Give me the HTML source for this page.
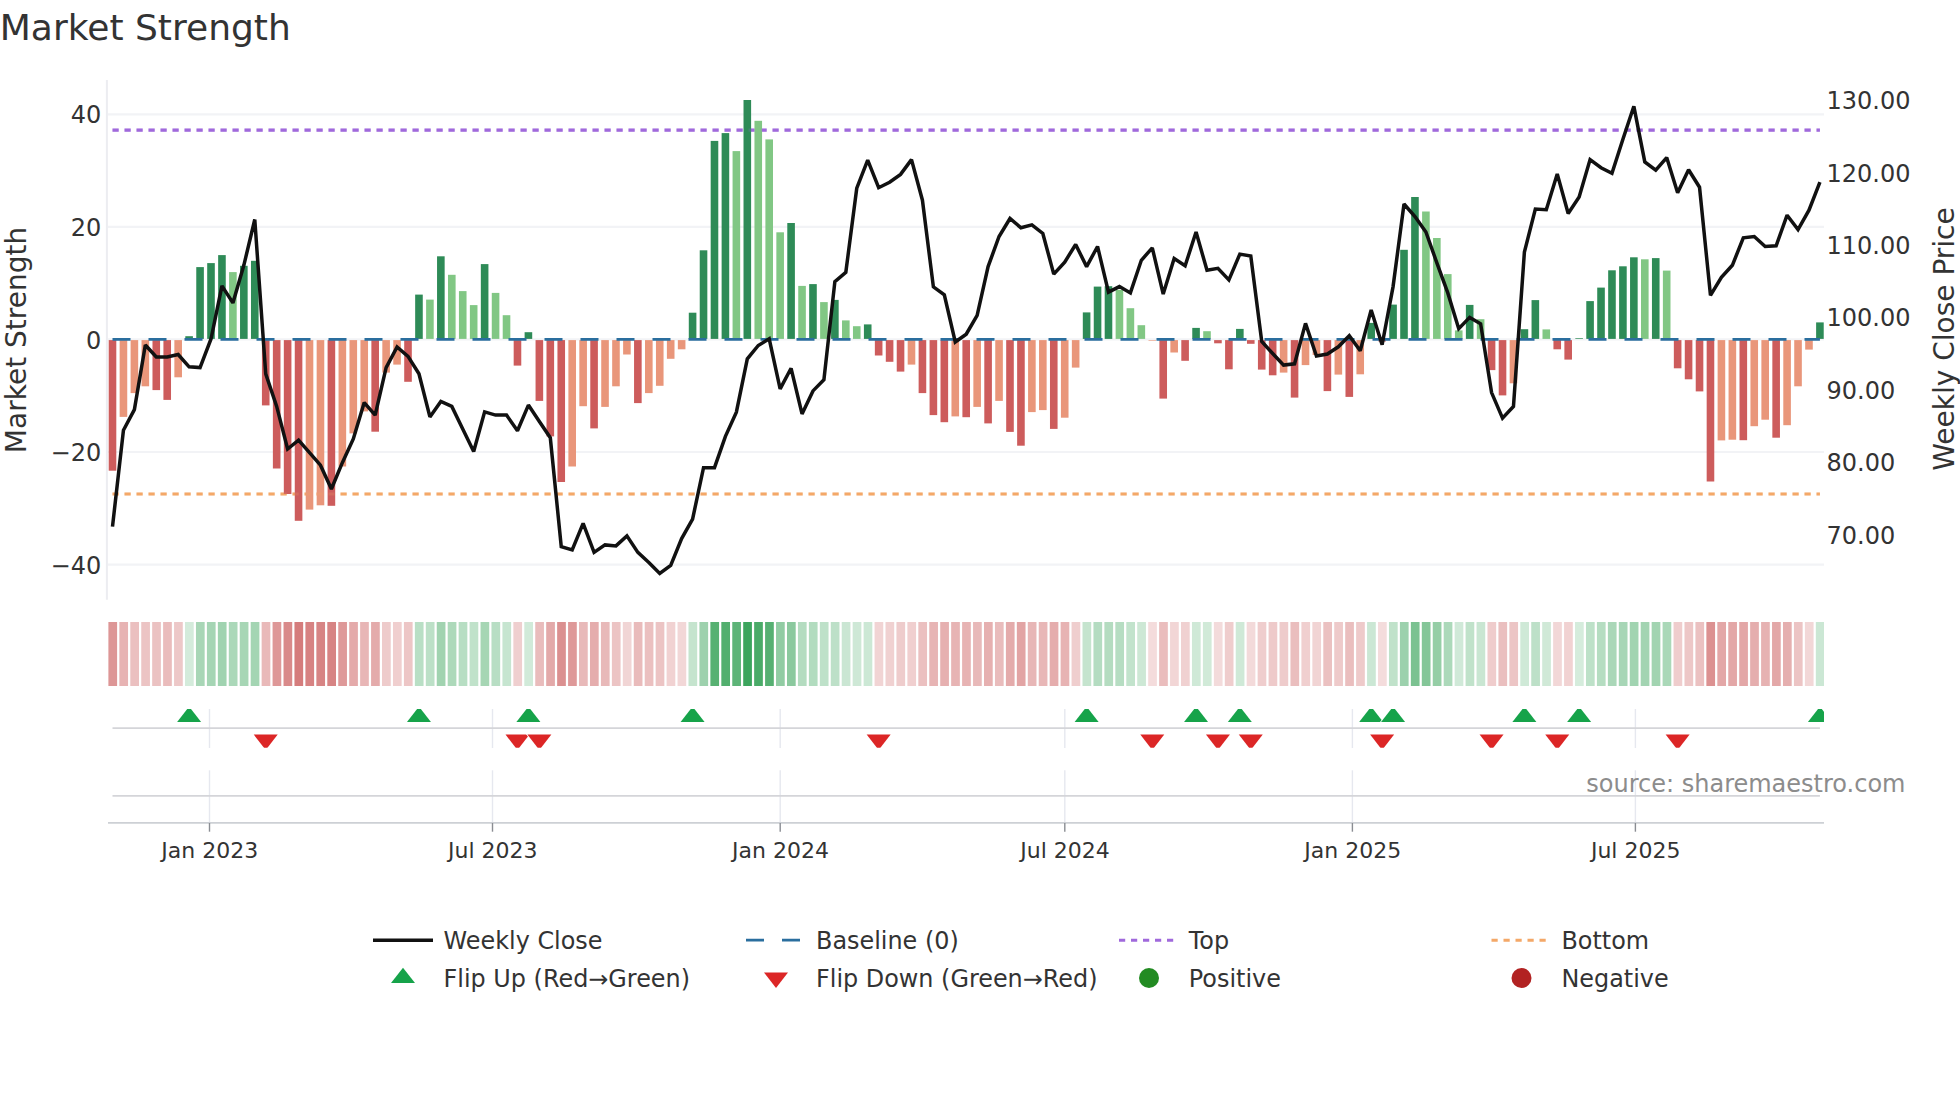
<!DOCTYPE html>
<html lang="en"><head><meta charset="utf-8"><title>Market Strength</title>
<style>html,body{margin:0;padding:0;background:#fff;}body{width:1960px;height:1102px;overflow:hidden;}svg{display:block;}text{font-family:"DejaVu Sans", "Liberation Sans", sans-serif;}</style>
</head><body>
<svg width="1960" height="1102" viewBox="0 0 1960 1102">
<rect width="1960" height="1102" fill="#ffffff"/>
<text x="-0.2" y="40.1" font-size="36" fill="#333333">Market Strength</text>
<g stroke="#f2f3f6" stroke-width="2.2" fill="none">
<line x1="108" y1="114.3" x2="1824" y2="114.3"/>
<line x1="108" y1="226.9" x2="1824" y2="226.9"/>
<line x1="108" y1="339.4" x2="1824" y2="339.4"/>
<line x1="108" y1="452" x2="1824" y2="452"/>
<line x1="108" y1="564.6" x2="1824" y2="564.6"/>
</g>
<line x1="106.9" y1="80" x2="106.9" y2="599.8" stroke="#ecedf1" stroke-width="2"/>
<line x1="112.5" y1="130.1" x2="1819.92" y2="130.1" stroke="#a069dc" stroke-width="3.1" stroke-dasharray="6.2 5.8"/>
<line x1="112.5" y1="494" x2="1819.92" y2="494" stroke="#f4a868" stroke-width="3.1" stroke-dasharray="6.2 5.8"/>
<g shape-rendering="auto">
<rect x="108.7" y="340.1" width="7.6" height="130.6" fill="#cd5c5c"/>
<rect x="119.64" y="340.1" width="7.6" height="76.8" fill="#e9967a"/>
<rect x="130.59" y="340.1" width="7.6" height="53" fill="#e9967a"/>
<rect x="141.53" y="340.1" width="7.6" height="46.2" fill="#e9967a"/>
<rect x="152.48" y="340.1" width="7.6" height="50" fill="#cd5c5c"/>
<rect x="163.42" y="340.1" width="7.6" height="59.8" fill="#cd5c5c"/>
<rect x="174.37" y="340.1" width="7.6" height="37.2" fill="#e9967a"/>
<rect x="185.31" y="336.2" width="7.6" height="2.7" fill="#2e8b57"/>
<rect x="196.26" y="267.1" width="7.6" height="71.8" fill="#2e8b57"/>
<rect x="207.2" y="263.1" width="7.6" height="75.8" fill="#2e8b57"/>
<rect x="218.15" y="255.1" width="7.6" height="83.8" fill="#2e8b57"/>
<rect x="229.09" y="272.1" width="7.6" height="66.8" fill="#81c784"/>
<rect x="240.04" y="265.8" width="7.6" height="73.1" fill="#2e8b57"/>
<rect x="250.98" y="260.8" width="7.6" height="78.1" fill="#2e8b57"/>
<rect x="261.93" y="340.1" width="7.6" height="65.3" fill="#cd5c5c"/>
<rect x="272.88" y="340.1" width="7.6" height="128.4" fill="#cd5c5c"/>
<rect x="283.82" y="340.1" width="7.6" height="153.9" fill="#cd5c5c"/>
<rect x="294.76" y="340.1" width="7.6" height="180.7" fill="#cd5c5c"/>
<rect x="305.71" y="340.1" width="7.6" height="169.5" fill="#e9967a"/>
<rect x="316.66" y="340.1" width="7.6" height="165.2" fill="#e9967a"/>
<rect x="327.6" y="340.1" width="7.6" height="165.7" fill="#cd5c5c"/>
<rect x="338.55" y="340.1" width="7.6" height="126.4" fill="#e9967a"/>
<rect x="349.49" y="340.1" width="7.6" height="93.3" fill="#e9967a"/>
<rect x="360.44" y="340.1" width="7.6" height="71.3" fill="#e9967a"/>
<rect x="371.38" y="340.1" width="7.6" height="91.6" fill="#cd5c5c"/>
<rect x="382.32" y="340.1" width="7.6" height="32.5" fill="#e9967a"/>
<rect x="393.27" y="340.1" width="7.6" height="24.5" fill="#e9967a"/>
<rect x="404.21" y="340.1" width="7.6" height="41.7" fill="#cd5c5c"/>
<rect x="415.16" y="294.6" width="7.6" height="44.3" fill="#2e8b57"/>
<rect x="426.11" y="299.6" width="7.6" height="39.3" fill="#81c784"/>
<rect x="437.05" y="256.3" width="7.6" height="82.6" fill="#2e8b57"/>
<rect x="448" y="274.8" width="7.6" height="64.1" fill="#81c784"/>
<rect x="458.94" y="291.1" width="7.6" height="47.8" fill="#81c784"/>
<rect x="469.88" y="305.1" width="7.6" height="33.8" fill="#81c784"/>
<rect x="480.83" y="264.1" width="7.6" height="74.8" fill="#2e8b57"/>
<rect x="491.77" y="292.9" width="7.6" height="46" fill="#81c784"/>
<rect x="502.72" y="315.2" width="7.6" height="23.7" fill="#81c784"/>
<rect x="513.67" y="340.1" width="7.6" height="25.5" fill="#cd5c5c"/>
<rect x="524.61" y="332.2" width="7.6" height="6.7" fill="#2e8b57"/>
<rect x="535.56" y="340.1" width="7.6" height="60.8" fill="#cd5c5c"/>
<rect x="546.5" y="340.1" width="7.6" height="96.3" fill="#cd5c5c"/>
<rect x="557.45" y="340.1" width="7.6" height="141.9" fill="#cd5c5c"/>
<rect x="568.39" y="340.1" width="7.6" height="126.4" fill="#e9967a"/>
<rect x="579.34" y="340.1" width="7.6" height="66.1" fill="#e9967a"/>
<rect x="590.28" y="340.1" width="7.6" height="88.3" fill="#cd5c5c"/>
<rect x="601.23" y="340.1" width="7.6" height="66.8" fill="#e9967a"/>
<rect x="612.17" y="340.1" width="7.6" height="46.2" fill="#e9967a"/>
<rect x="623.12" y="340.1" width="7.6" height="14.4" fill="#e9967a"/>
<rect x="634.06" y="340.1" width="7.6" height="63" fill="#cd5c5c"/>
<rect x="645.01" y="340.1" width="7.6" height="53" fill="#e9967a"/>
<rect x="655.95" y="340.1" width="7.6" height="45.7" fill="#e9967a"/>
<rect x="666.9" y="340.1" width="7.6" height="18.7" fill="#e9967a"/>
<rect x="677.84" y="340.1" width="7.6" height="9.2" fill="#e9967a"/>
<rect x="688.79" y="312.7" width="7.6" height="26.2" fill="#2e8b57"/>
<rect x="699.73" y="250.3" width="7.6" height="88.6" fill="#2e8b57"/>
<rect x="710.68" y="140.9" width="7.6" height="198" fill="#2e8b57"/>
<rect x="721.62" y="133.1" width="7.6" height="205.8" fill="#2e8b57"/>
<rect x="732.57" y="151.1" width="7.6" height="187.8" fill="#81c784"/>
<rect x="743.51" y="100" width="7.6" height="238.9" fill="#2e8b57"/>
<rect x="754.46" y="120.8" width="7.6" height="218.1" fill="#81c784"/>
<rect x="765.4" y="139.4" width="7.6" height="199.5" fill="#81c784"/>
<rect x="776.35" y="232.3" width="7.6" height="106.6" fill="#81c784"/>
<rect x="787.29" y="223" width="7.6" height="115.9" fill="#2e8b57"/>
<rect x="798.24" y="285.9" width="7.6" height="53" fill="#81c784"/>
<rect x="809.18" y="284.1" width="7.6" height="54.8" fill="#2e8b57"/>
<rect x="820.13" y="302.1" width="7.6" height="36.8" fill="#81c784"/>
<rect x="831.07" y="299.9" width="7.6" height="39" fill="#2e8b57"/>
<rect x="842.02" y="320.4" width="7.6" height="18.5" fill="#81c784"/>
<rect x="852.96" y="326.2" width="7.6" height="12.7" fill="#81c784"/>
<rect x="863.91" y="324.4" width="7.6" height="14.5" fill="#2e8b57"/>
<rect x="874.85" y="340.1" width="7.6" height="15.4" fill="#cd5c5c"/>
<rect x="885.8" y="340.1" width="7.6" height="21.7" fill="#cd5c5c"/>
<rect x="896.74" y="340.1" width="7.6" height="31.5" fill="#cd5c5c"/>
<rect x="907.69" y="340.1" width="7.6" height="24.5" fill="#e9967a"/>
<rect x="918.63" y="340.1" width="7.6" height="53" fill="#cd5c5c"/>
<rect x="929.58" y="340.1" width="7.6" height="75" fill="#cd5c5c"/>
<rect x="940.52" y="340.1" width="7.6" height="82.1" fill="#cd5c5c"/>
<rect x="951.47" y="340.1" width="7.6" height="76.3" fill="#e9967a"/>
<rect x="962.41" y="340.1" width="7.6" height="77.1" fill="#cd5c5c"/>
<rect x="973.36" y="340.1" width="7.6" height="66.8" fill="#e9967a"/>
<rect x="984.3" y="340.1" width="7.6" height="83.3" fill="#cd5c5c"/>
<rect x="995.25" y="340.1" width="7.6" height="60.8" fill="#e9967a"/>
<rect x="1006.19" y="340.1" width="7.6" height="91.8" fill="#cd5c5c"/>
<rect x="1017.14" y="340.1" width="7.6" height="105.6" fill="#cd5c5c"/>
<rect x="1028.08" y="340.1" width="7.6" height="72" fill="#e9967a"/>
<rect x="1039.03" y="340.1" width="7.6" height="70" fill="#e9967a"/>
<rect x="1049.97" y="340.1" width="7.6" height="88.8" fill="#cd5c5c"/>
<rect x="1060.92" y="340.1" width="7.6" height="77.6" fill="#e9967a"/>
<rect x="1071.86" y="340.1" width="7.6" height="27.5" fill="#e9967a"/>
<rect x="1082.81" y="312.4" width="7.6" height="26.5" fill="#2e8b57"/>
<rect x="1093.75" y="286.6" width="7.6" height="52.3" fill="#2e8b57"/>
<rect x="1104.69" y="286.2" width="7.6" height="52.7" fill="#2e8b57"/>
<rect x="1115.64" y="289.9" width="7.6" height="49" fill="#81c784"/>
<rect x="1126.59" y="308.2" width="7.6" height="30.7" fill="#81c784"/>
<rect x="1137.53" y="325.2" width="7.6" height="13.7" fill="#81c784"/>
<rect x="1148.48" y="340.1" width="7.6" height="0.6" fill="#e9967a"/>
<rect x="1159.42" y="340.1" width="7.6" height="58.5" fill="#cd5c5c"/>
<rect x="1170.37" y="340.1" width="7.6" height="12.4" fill="#e9967a"/>
<rect x="1181.31" y="340.1" width="7.6" height="20.7" fill="#cd5c5c"/>
<rect x="1192.26" y="327.9" width="7.6" height="11" fill="#2e8b57"/>
<rect x="1203.2" y="331.2" width="7.6" height="7.7" fill="#81c784"/>
<rect x="1214.14" y="340.1" width="7.6" height="3.2" fill="#cd5c5c"/>
<rect x="1225.09" y="340.1" width="7.6" height="29.2" fill="#cd5c5c"/>
<rect x="1236.04" y="328.9" width="7.6" height="10" fill="#2e8b57"/>
<rect x="1246.98" y="340.1" width="7.6" height="3.7" fill="#cd5c5c"/>
<rect x="1257.93" y="340.1" width="7.6" height="29.5" fill="#cd5c5c"/>
<rect x="1268.87" y="340.1" width="7.6" height="35.2" fill="#cd5c5c"/>
<rect x="1279.82" y="340.1" width="7.6" height="32.5" fill="#e9967a"/>
<rect x="1290.76" y="340.1" width="7.6" height="57.5" fill="#cd5c5c"/>
<rect x="1301.71" y="340.1" width="7.6" height="25" fill="#e9967a"/>
<rect x="1312.65" y="340.1" width="7.6" height="14.9" fill="#e9967a"/>
<rect x="1323.6" y="340.1" width="7.6" height="51" fill="#cd5c5c"/>
<rect x="1334.54" y="340.1" width="7.6" height="34.5" fill="#e9967a"/>
<rect x="1345.49" y="340.1" width="7.6" height="56.8" fill="#cd5c5c"/>
<rect x="1356.43" y="340.1" width="7.6" height="34.2" fill="#e9967a"/>
<rect x="1367.38" y="322.9" width="7.6" height="16" fill="#2e8b57"/>
<rect x="1378.32" y="340.1" width="7.6" height="1.4" fill="#cd5c5c"/>
<rect x="1389.27" y="304.6" width="7.6" height="34.3" fill="#2e8b57"/>
<rect x="1400.21" y="249.8" width="7.6" height="89.1" fill="#2e8b57"/>
<rect x="1411.15" y="197" width="7.6" height="141.9" fill="#2e8b57"/>
<rect x="1422.1" y="211.5" width="7.6" height="127.4" fill="#81c784"/>
<rect x="1433.05" y="238" width="7.6" height="100.9" fill="#81c784"/>
<rect x="1443.99" y="274.1" width="7.6" height="64.8" fill="#81c784"/>
<rect x="1454.94" y="330.4" width="7.6" height="8.5" fill="#81c784"/>
<rect x="1465.88" y="304.9" width="7.6" height="34" fill="#2e8b57"/>
<rect x="1476.83" y="319.2" width="7.6" height="19.7" fill="#81c784"/>
<rect x="1487.77" y="340.1" width="7.6" height="30" fill="#cd5c5c"/>
<rect x="1498.72" y="340.1" width="7.6" height="55.3" fill="#cd5c5c"/>
<rect x="1509.66" y="340.1" width="7.6" height="43.2" fill="#e9967a"/>
<rect x="1520.61" y="329.2" width="7.6" height="9.7" fill="#2e8b57"/>
<rect x="1531.55" y="300.1" width="7.6" height="38.8" fill="#2e8b57"/>
<rect x="1542.5" y="329.4" width="7.6" height="9.5" fill="#81c784"/>
<rect x="1553.44" y="340.1" width="7.6" height="9.2" fill="#cd5c5c"/>
<rect x="1564.38" y="340.1" width="7.6" height="19.5" fill="#cd5c5c"/>
<rect x="1575.33" y="338.2" width="7.6" height="0.7" fill="#2e8b57"/>
<rect x="1586.28" y="301.1" width="7.6" height="37.8" fill="#2e8b57"/>
<rect x="1597.22" y="287.6" width="7.6" height="51.3" fill="#2e8b57"/>
<rect x="1608.17" y="270.3" width="7.6" height="68.6" fill="#2e8b57"/>
<rect x="1619.11" y="266.3" width="7.6" height="72.6" fill="#2e8b57"/>
<rect x="1630.06" y="257.3" width="7.6" height="81.6" fill="#2e8b57"/>
<rect x="1641" y="259.3" width="7.6" height="79.6" fill="#81c784"/>
<rect x="1651.95" y="258.1" width="7.6" height="80.8" fill="#2e8b57"/>
<rect x="1662.89" y="270.6" width="7.6" height="68.3" fill="#81c784"/>
<rect x="1673.84" y="340.1" width="7.6" height="28.2" fill="#cd5c5c"/>
<rect x="1684.78" y="340.1" width="7.6" height="39.2" fill="#cd5c5c"/>
<rect x="1695.73" y="340.1" width="7.6" height="51.3" fill="#cd5c5c"/>
<rect x="1706.67" y="340.1" width="7.6" height="141.4" fill="#cd5c5c"/>
<rect x="1717.62" y="340.1" width="7.6" height="100.3" fill="#e9967a"/>
<rect x="1728.56" y="340.1" width="7.6" height="99.6" fill="#e9967a"/>
<rect x="1739.51" y="340.1" width="7.6" height="100.1" fill="#cd5c5c"/>
<rect x="1750.45" y="340.1" width="7.6" height="86.1" fill="#e9967a"/>
<rect x="1761.39" y="340.1" width="7.6" height="79.6" fill="#e9967a"/>
<rect x="1772.34" y="340.1" width="7.6" height="97.6" fill="#cd5c5c"/>
<rect x="1783.29" y="340.1" width="7.6" height="85.1" fill="#e9967a"/>
<rect x="1794.23" y="340.1" width="7.6" height="46.2" fill="#e9967a"/>
<rect x="1805.18" y="340.1" width="7.6" height="9.5" fill="#e9967a"/>
<rect x="1816.12" y="322.4" width="7.6" height="16.5" fill="#2e8b57"/>
</g>
<line x1="112.5" y1="339.4" x2="1819.92" y2="339.4" stroke="#2a6e9e" stroke-width="2.8" stroke-dasharray="18 18"/>
<line x1="112.5" y1="130.1" x2="1819.92" y2="130.1" stroke="#a069dc" stroke-width="3.1" stroke-dasharray="6.2 5.8" opacity="0.2"/>
<line x1="112.5" y1="494" x2="1819.92" y2="494" stroke="#f4a868" stroke-width="3.1" stroke-dasharray="6.2 5.8" opacity="0.2"/>
<polyline points="112.5,526.6 123.44,430.2 134.39,409.6 145.34,345 156.28,357 167.22,357 178.17,354.5 189.12,366.8 200.06,367.6 211,339 221.95,285.9 232.9,302.9 243.84,265.3 254.78,219.5 265.73,373.8 276.68,406.4 287.62,449 298.56,440.2 309.51,452.7 320.46,465.2 331.4,489 342.35,462.7 353.29,438.9 364.24,402.6 375.18,415.1 386.12,367.6 397.07,347 408.01,356.3 418.96,373.8 429.91,416.9 440.85,401.4 451.8,406.4 462.74,428.9 473.69,451.5 484.63,411.9 495.57,415.1 506.52,415.1 517.47,430.7 528.41,405.1 539.36,421.4 550.3,437.7 561.25,546.6 572.19,549.9 583.13,523.3 594.08,552.4 605.03,544.9 615.97,545.9 626.91,535.9 637.86,552.4 648.81,562.4 659.75,573.4 670.7,565.4 681.64,538.6 692.59,519.1 703.53,467.7 714.48,467.7 725.42,436.4 736.37,412.1 747.31,358.8 758.25,345.5 769.2,338.8 780.14,388.9 791.09,368.3 802.03,413.9 812.98,390.9 823.93,379.6 834.87,281.6 845.82,272.3 856.76,188.2 867.71,160.1 878.65,187.7 889.6,182.2 900.54,174.4 911.49,159.6 922.43,200.2 933.38,286.9 944.32,294.9 955.26,342 966.21,334.2 977.15,315.4 988.1,266.6 999.05,236.5 1009.99,218.5 1020.94,227.8 1031.88,224.8 1042.83,233.5 1053.77,274.1 1064.72,262.1 1075.66,244.5 1086.61,266.6 1097.55,246.5 1108.49,292.1 1119.44,286.6 1130.38,292.9 1141.33,260.3 1152.28,247.8 1163.22,294.1 1174.16,258.6 1185.11,265.8 1196.06,232 1207,270.3 1217.94,268.3 1228.89,279.9 1239.84,254.1 1250.78,256.1 1261.73,341.5 1272.67,353.5 1283.62,365.1 1294.56,363.8 1305.51,323.4 1316.45,356 1327.39,354 1338.34,346.8 1349.29,335.7 1360.23,350.7 1371.17,309.9 1382.12,344.8 1393.07,286.6 1404.01,204 1414.95,216.5 1425.9,232 1436.85,262.8 1447.79,292.9 1458.74,328.7 1469.68,317.4 1480.62,323.8 1491.57,392.6 1502.52,418.2 1513.46,406.4 1524.4,252 1535.35,209 1546.3,209.7 1557.24,173.9 1568.18,213.5 1579.13,197 1590.08,159.6 1601.02,167.7 1611.97,173.2 1622.91,139.2 1633.86,106.3 1644.8,161.9 1655.75,170.2 1666.69,157.6 1677.63,192.7 1688.58,169.7 1699.53,187.2 1710.47,295.4 1721.41,277.3 1732.36,265.3 1743.31,237.8 1754.25,236.5 1765.19,246.5 1776.14,245.8 1787.09,215.2 1798.03,229.5 1808.98,210.2 1819.92,182.2" fill="none" stroke="#111111" stroke-width="3.5" stroke-linejoin="miter" stroke-miterlimit="2" stroke-linecap="butt"/>
<g font-size="24" fill="#333333" text-anchor="end">
<text x="101.2" y="123.4">40</text>
<text x="101.2" y="236">20</text>
<text x="101.2" y="348.5">0</text>
<text x="101.2" y="461.1">−20</text>
<text x="101.2" y="573.7">−40</text>
</g>
<g font-size="24" fill="#333333" text-anchor="start">
<text x="1826.5" y="109.25">130.00</text>
<text x="1826.5" y="181.65">120.00</text>
<text x="1826.5" y="254.05">110.00</text>
<text x="1826.5" y="326.45">100.00</text>
<text x="1826.5" y="398.85">90.00</text>
<text x="1826.5" y="471.25">80.00</text>
<text x="1826.5" y="543.65">70.00</text>
</g>
<text transform="translate(26.4 340) rotate(-90)" text-anchor="middle" font-size="28" fill="#333333">Market Strength</text>
<text transform="translate(1954.3 339) rotate(-90)" text-anchor="middle" font-size="28" fill="#333333">Weekly Close Price</text>
<g>
<rect x="108.4" y="622" width="8.7" height="64" fill="#dd9696"/>
<rect x="119.34" y="622" width="8.7" height="64" fill="#e7b3b3"/>
<rect x="130.29" y="622" width="8.7" height="64" fill="#ebc0c0"/>
<rect x="141.24" y="622" width="8.7" height="64" fill="#ecc4c4"/>
<rect x="152.18" y="622" width="8.7" height="64" fill="#ebc2c2"/>
<rect x="163.12" y="622" width="8.7" height="64" fill="#eabcbc"/>
<rect x="174.07" y="622" width="8.7" height="64" fill="#edc8c8"/>
<rect x="185.02" y="622" width="8.7" height="64" fill="#d4ebdb"/>
<rect x="195.96" y="622" width="8.7" height="64" fill="#a8d6b6"/>
<rect x="206.91" y="622" width="8.7" height="64" fill="#a5d5b4"/>
<rect x="217.85" y="622" width="8.7" height="64" fill="#a0d3b0"/>
<rect x="228.8" y="622" width="8.7" height="64" fill="#abd8b9"/>
<rect x="239.74" y="622" width="8.7" height="64" fill="#a7d6b5"/>
<rect x="250.69" y="622" width="8.7" height="64" fill="#a4d5b3"/>
<rect x="261.63" y="622" width="8.7" height="64" fill="#e9b9b9"/>
<rect x="272.57" y="622" width="8.7" height="64" fill="#de9898"/>
<rect x="283.52" y="622" width="8.7" height="64" fill="#d98a8a"/>
<rect x="294.46" y="622" width="8.7" height="64" fill="#d57c7c"/>
<rect x="305.41" y="622" width="8.7" height="64" fill="#d78282"/>
<rect x="316.36" y="622" width="8.7" height="64" fill="#d78484"/>
<rect x="327.3" y="622" width="8.7" height="64" fill="#d78484"/>
<rect x="338.25" y="622" width="8.7" height="64" fill="#de9999"/>
<rect x="349.19" y="622" width="8.7" height="64" fill="#e4aaaa"/>
<rect x="360.13" y="622" width="8.7" height="64" fill="#e8b6b6"/>
<rect x="371.08" y="622" width="8.7" height="64" fill="#e4abab"/>
<rect x="382.02" y="622" width="8.7" height="64" fill="#eecbcb"/>
<rect x="392.97" y="622" width="8.7" height="64" fill="#f0cfcf"/>
<rect x="403.91" y="622" width="8.7" height="64" fill="#edc6c6"/>
<rect x="414.86" y="622" width="8.7" height="64" fill="#b9dfc5"/>
<rect x="425.81" y="622" width="8.7" height="64" fill="#bce0c7"/>
<rect x="436.75" y="622" width="8.7" height="64" fill="#a1d3b0"/>
<rect x="447.69" y="622" width="8.7" height="64" fill="#add9ba"/>
<rect x="458.64" y="622" width="8.7" height="64" fill="#b7dec3"/>
<rect x="469.58" y="622" width="8.7" height="64" fill="#c0e2ca"/>
<rect x="480.53" y="622" width="8.7" height="64" fill="#a6d6b4"/>
<rect x="491.47" y="622" width="8.7" height="64" fill="#b8dec4"/>
<rect x="502.42" y="622" width="8.7" height="64" fill="#c6e5d0"/>
<rect x="513.37" y="622" width="8.7" height="64" fill="#efcfcf"/>
<rect x="524.31" y="622" width="8.7" height="64" fill="#d1ead9"/>
<rect x="535.25" y="622" width="8.7" height="64" fill="#e9bcbc"/>
<rect x="546.2" y="622" width="8.7" height="64" fill="#e3a9a9"/>
<rect x="557.14" y="622" width="8.7" height="64" fill="#db9090"/>
<rect x="568.09" y="622" width="8.7" height="64" fill="#de9999"/>
<rect x="579.03" y="622" width="8.7" height="64" fill="#e8b9b9"/>
<rect x="589.98" y="622" width="8.7" height="64" fill="#e5adad"/>
<rect x="600.93" y="622" width="8.7" height="64" fill="#e8b9b9"/>
<rect x="611.87" y="622" width="8.7" height="64" fill="#ecc4c4"/>
<rect x="622.81" y="622" width="8.7" height="64" fill="#f1d5d5"/>
<rect x="633.76" y="622" width="8.7" height="64" fill="#e9bbbb"/>
<rect x="644.71" y="622" width="8.7" height="64" fill="#ebc0c0"/>
<rect x="655.65" y="622" width="8.7" height="64" fill="#ecc4c4"/>
<rect x="666.6" y="622" width="8.7" height="64" fill="#f1d2d2"/>
<rect x="677.54" y="622" width="8.7" height="64" fill="#f2d7d7"/>
<rect x="688.49" y="622" width="8.7" height="64" fill="#c5e4ce"/>
<rect x="699.43" y="622" width="8.7" height="64" fill="#9dd1ad"/>
<rect x="710.38" y="622" width="8.7" height="64" fill="#57b172"/>
<rect x="721.32" y="622" width="8.7" height="64" fill="#52af6e"/>
<rect x="732.26" y="622" width="8.7" height="64" fill="#5db478"/>
<rect x="743.21" y="622" width="8.7" height="64" fill="#3ca55d"/>
<rect x="754.15" y="622" width="8.7" height="64" fill="#4aab68"/>
<rect x="765.1" y="622" width="8.7" height="64" fill="#56b072"/>
<rect x="776.04" y="622" width="8.7" height="64" fill="#91cca3"/>
<rect x="786.99" y="622" width="8.7" height="64" fill="#8bc99e"/>
<rect x="797.93" y="622" width="8.7" height="64" fill="#b4dcc0"/>
<rect x="808.88" y="622" width="8.7" height="64" fill="#b2dcbf"/>
<rect x="819.83" y="622" width="8.7" height="64" fill="#bee1c9"/>
<rect x="830.77" y="622" width="8.7" height="64" fill="#bde0c8"/>
<rect x="841.72" y="622" width="8.7" height="64" fill="#cae6d3"/>
<rect x="852.66" y="622" width="8.7" height="64" fill="#cee8d6"/>
<rect x="863.61" y="622" width="8.7" height="64" fill="#cce8d5"/>
<rect x="874.55" y="622" width="8.7" height="64" fill="#f1d4d4"/>
<rect x="885.5" y="622" width="8.7" height="64" fill="#f0d1d1"/>
<rect x="896.44" y="622" width="8.7" height="64" fill="#eecccc"/>
<rect x="907.38" y="622" width="8.7" height="64" fill="#f0cfcf"/>
<rect x="918.33" y="622" width="8.7" height="64" fill="#ebc0c0"/>
<rect x="929.27" y="622" width="8.7" height="64" fill="#e7b4b4"/>
<rect x="940.22" y="622" width="8.7" height="64" fill="#e6b0b0"/>
<rect x="951.16" y="622" width="8.7" height="64" fill="#e7b4b4"/>
<rect x="962.11" y="622" width="8.7" height="64" fill="#e7b3b3"/>
<rect x="973.05" y="622" width="8.7" height="64" fill="#e8b9b9"/>
<rect x="984" y="622" width="8.7" height="64" fill="#e6b0b0"/>
<rect x="994.95" y="622" width="8.7" height="64" fill="#e9bcbc"/>
<rect x="1005.89" y="622" width="8.7" height="64" fill="#e4abab"/>
<rect x="1016.84" y="622" width="8.7" height="64" fill="#e2a4a4"/>
<rect x="1027.78" y="622" width="8.7" height="64" fill="#e7b6b6"/>
<rect x="1038.73" y="622" width="8.7" height="64" fill="#e8b7b7"/>
<rect x="1049.67" y="622" width="8.7" height="64" fill="#e5adad"/>
<rect x="1060.62" y="622" width="8.7" height="64" fill="#e7b3b3"/>
<rect x="1071.56" y="622" width="8.7" height="64" fill="#efcece"/>
<rect x="1082.51" y="622" width="8.7" height="64" fill="#c5e4ce"/>
<rect x="1093.45" y="622" width="8.7" height="64" fill="#b4dcc1"/>
<rect x="1104.39" y="622" width="8.7" height="64" fill="#b4dcc0"/>
<rect x="1115.34" y="622" width="8.7" height="64" fill="#b6ddc2"/>
<rect x="1126.29" y="622" width="8.7" height="64" fill="#c2e3cc"/>
<rect x="1137.23" y="622" width="8.7" height="64" fill="#cde8d5"/>
<rect x="1148.18" y="622" width="8.7" height="64" fill="#f4dcdc"/>
<rect x="1159.12" y="622" width="8.7" height="64" fill="#eabdbd"/>
<rect x="1170.07" y="622" width="8.7" height="64" fill="#f2d6d6"/>
<rect x="1181.01" y="622" width="8.7" height="64" fill="#f0d1d1"/>
<rect x="1191.96" y="622" width="8.7" height="64" fill="#cfe9d7"/>
<rect x="1202.9" y="622" width="8.7" height="64" fill="#d1ead8"/>
<rect x="1213.85" y="622" width="8.7" height="64" fill="#f3dbdb"/>
<rect x="1224.79" y="622" width="8.7" height="64" fill="#efcdcd"/>
<rect x="1235.74" y="622" width="8.7" height="64" fill="#cfe9d7"/>
<rect x="1246.68" y="622" width="8.7" height="64" fill="#f3dada"/>
<rect x="1257.63" y="622" width="8.7" height="64" fill="#efcdcd"/>
<rect x="1268.57" y="622" width="8.7" height="64" fill="#eecaca"/>
<rect x="1279.52" y="622" width="8.7" height="64" fill="#eecbcb"/>
<rect x="1290.46" y="622" width="8.7" height="64" fill="#eabebe"/>
<rect x="1301.41" y="622" width="8.7" height="64" fill="#f0cfcf"/>
<rect x="1312.35" y="622" width="8.7" height="64" fill="#f1d4d4"/>
<rect x="1323.3" y="622" width="8.7" height="64" fill="#ebc1c1"/>
<rect x="1334.24" y="622" width="8.7" height="64" fill="#eecaca"/>
<rect x="1345.19" y="622" width="8.7" height="64" fill="#eabebe"/>
<rect x="1356.13" y="622" width="8.7" height="64" fill="#eecaca"/>
<rect x="1367.08" y="622" width="8.7" height="64" fill="#cbe7d4"/>
<rect x="1378.02" y="622" width="8.7" height="64" fill="#f4dcdc"/>
<rect x="1388.97" y="622" width="8.7" height="64" fill="#c0e2ca"/>
<rect x="1399.91" y="622" width="8.7" height="64" fill="#9cd1ad"/>
<rect x="1410.86" y="622" width="8.7" height="64" fill="#7bc291"/>
<rect x="1421.8" y="622" width="8.7" height="64" fill="#84c698"/>
<rect x="1432.75" y="622" width="8.7" height="64" fill="#95cea6"/>
<rect x="1443.69" y="622" width="8.7" height="64" fill="#acd9ba"/>
<rect x="1454.64" y="622" width="8.7" height="64" fill="#d0e9d8"/>
<rect x="1465.58" y="622" width="8.7" height="64" fill="#c0e2ca"/>
<rect x="1476.53" y="622" width="8.7" height="64" fill="#c9e6d2"/>
<rect x="1487.47" y="622" width="8.7" height="64" fill="#efcccc"/>
<rect x="1498.42" y="622" width="8.7" height="64" fill="#eabfbf"/>
<rect x="1509.36" y="622" width="8.7" height="64" fill="#ecc5c5"/>
<rect x="1520.31" y="622" width="8.7" height="64" fill="#cfe9d7"/>
<rect x="1531.25" y="622" width="8.7" height="64" fill="#bde0c8"/>
<rect x="1542.2" y="622" width="8.7" height="64" fill="#d0e9d7"/>
<rect x="1553.14" y="622" width="8.7" height="64" fill="#f2d7d7"/>
<rect x="1564.09" y="622" width="8.7" height="64" fill="#f1d2d2"/>
<rect x="1575.03" y="622" width="8.7" height="64" fill="#d5ecdc"/>
<rect x="1585.98" y="622" width="8.7" height="64" fill="#bde1c8"/>
<rect x="1596.92" y="622" width="8.7" height="64" fill="#b5ddc1"/>
<rect x="1607.87" y="622" width="8.7" height="64" fill="#aad7b8"/>
<rect x="1618.81" y="622" width="8.7" height="64" fill="#a7d6b6"/>
<rect x="1629.76" y="622" width="8.7" height="64" fill="#a1d4b1"/>
<rect x="1640.7" y="622" width="8.7" height="64" fill="#a3d4b2"/>
<rect x="1651.65" y="622" width="8.7" height="64" fill="#a2d4b1"/>
<rect x="1662.59" y="622" width="8.7" height="64" fill="#aad8b8"/>
<rect x="1673.54" y="622" width="8.7" height="64" fill="#efcdcd"/>
<rect x="1684.48" y="622" width="8.7" height="64" fill="#edc7c7"/>
<rect x="1695.43" y="622" width="8.7" height="64" fill="#ebc1c1"/>
<rect x="1706.37" y="622" width="8.7" height="64" fill="#dc9191"/>
<rect x="1717.32" y="622" width="8.7" height="64" fill="#e3a7a7"/>
<rect x="1728.26" y="622" width="8.7" height="64" fill="#e3a7a7"/>
<rect x="1739.21" y="622" width="8.7" height="64" fill="#e3a7a7"/>
<rect x="1750.15" y="622" width="8.7" height="64" fill="#e5aeae"/>
<rect x="1761.1" y="622" width="8.7" height="64" fill="#e6b2b2"/>
<rect x="1772.04" y="622" width="8.7" height="64" fill="#e3a8a8"/>
<rect x="1782.99" y="622" width="8.7" height="64" fill="#e5afaf"/>
<rect x="1793.93" y="622" width="8.7" height="64" fill="#ecc4c4"/>
<rect x="1804.88" y="622" width="8.7" height="64" fill="#f2d7d7"/>
<rect x="1815.82" y="622" width="8.18" height="64" fill="#cbe7d4"/>
</g>
<g stroke="#e6e8ef" stroke-width="1.4">
<line x1="209.5" y1="709" x2="209.5" y2="748" />
<line x1="209.5" y1="770.3" x2="209.5" y2="823" />
<line x1="492.5" y1="709" x2="492.5" y2="748" />
<line x1="492.5" y1="770.3" x2="492.5" y2="823" />
<line x1="780.2" y1="709" x2="780.2" y2="748" />
<line x1="780.2" y1="770.3" x2="780.2" y2="823" />
<line x1="1064.8" y1="709" x2="1064.8" y2="748" />
<line x1="1064.8" y1="770.3" x2="1064.8" y2="823" />
<line x1="1352.4" y1="709" x2="1352.4" y2="748" />
<line x1="1352.4" y1="770.3" x2="1352.4" y2="823" />
<line x1="1635.4" y1="709" x2="1635.4" y2="748" />
<line x1="1635.4" y1="770.3" x2="1635.4" y2="823" />
</g>
<line x1="112.5" y1="728.2" x2="1819.92" y2="728.2" stroke="#d4d5d9" stroke-width="1.8"/>
<line x1="112.5" y1="795.9" x2="1819.92" y2="795.9" stroke="#d4d5d9" stroke-width="1.8"/>
<line x1="108" y1="822.8" x2="1824" y2="822.8" stroke="#cdd0d5" stroke-width="1.8"/>
<g stroke="#8a8d93" stroke-width="1.4">
<line x1="209.5" y1="823" x2="209.5" y2="831.7" />
<line x1="492.5" y1="823" x2="492.5" y2="831.7" />
<line x1="780.2" y1="823" x2="780.2" y2="831.7" />
<line x1="1064.8" y1="823" x2="1064.8" y2="831.7" />
<line x1="1352.4" y1="823" x2="1352.4" y2="831.7" />
<line x1="1635.4" y1="823" x2="1635.4" y2="831.7" />
</g>
<clipPath id="mk"><rect x="108" y="709" width="1716" height="38.8"/></clipPath>
<g clip-path="url(#mk)">
<path d="M177.12 722 L201.12 722 L189.12 706.6 Z" fill="#16a34a" stroke="#ffffff" stroke-width="1.6" paint-order="stroke"/>
<path d="M253.73 734.6 L277.73 734.6 L265.73 750 Z" fill="#dc2626" stroke="#ffffff" stroke-width="1.6" paint-order="stroke"/>
<path d="M406.96 722 L430.96 722 L418.96 706.6 Z" fill="#16a34a" stroke="#ffffff" stroke-width="1.6" paint-order="stroke"/>
<path d="M505.47 734.6 L529.47 734.6 L517.47 750 Z" fill="#dc2626" stroke="#ffffff" stroke-width="1.6" paint-order="stroke"/>
<path d="M516.41 722 L540.41 722 L528.41 706.6 Z" fill="#16a34a" stroke="#ffffff" stroke-width="1.6" paint-order="stroke"/>
<path d="M527.36 734.6 L551.36 734.6 L539.36 750 Z" fill="#dc2626" stroke="#ffffff" stroke-width="1.6" paint-order="stroke"/>
<path d="M680.59 722 L704.59 722 L692.59 706.6 Z" fill="#16a34a" stroke="#ffffff" stroke-width="1.6" paint-order="stroke"/>
<path d="M866.65 734.6 L890.65 734.6 L878.65 750 Z" fill="#dc2626" stroke="#ffffff" stroke-width="1.6" paint-order="stroke"/>
<path d="M1074.61 722 L1098.61 722 L1086.61 706.6 Z" fill="#16a34a" stroke="#ffffff" stroke-width="1.6" paint-order="stroke"/>
<path d="M1140.28 734.6 L1164.28 734.6 L1152.28 750 Z" fill="#dc2626" stroke="#ffffff" stroke-width="1.6" paint-order="stroke"/>
<path d="M1184.06 722 L1208.06 722 L1196.06 706.6 Z" fill="#16a34a" stroke="#ffffff" stroke-width="1.6" paint-order="stroke"/>
<path d="M1205.94 734.6 L1229.94 734.6 L1217.94 750 Z" fill="#dc2626" stroke="#ffffff" stroke-width="1.6" paint-order="stroke"/>
<path d="M1227.84 722 L1251.84 722 L1239.84 706.6 Z" fill="#16a34a" stroke="#ffffff" stroke-width="1.6" paint-order="stroke"/>
<path d="M1238.78 734.6 L1262.78 734.6 L1250.78 750 Z" fill="#dc2626" stroke="#ffffff" stroke-width="1.6" paint-order="stroke"/>
<path d="M1359.17 722 L1383.17 722 L1371.17 706.6 Z" fill="#16a34a" stroke="#ffffff" stroke-width="1.6" paint-order="stroke"/>
<path d="M1370.12 734.6 L1394.12 734.6 L1382.12 750 Z" fill="#dc2626" stroke="#ffffff" stroke-width="1.6" paint-order="stroke"/>
<path d="M1381.07 722 L1405.07 722 L1393.07 706.6 Z" fill="#16a34a" stroke="#ffffff" stroke-width="1.6" paint-order="stroke"/>
<path d="M1479.57 734.6 L1503.57 734.6 L1491.57 750 Z" fill="#dc2626" stroke="#ffffff" stroke-width="1.6" paint-order="stroke"/>
<path d="M1512.4 722 L1536.4 722 L1524.4 706.6 Z" fill="#16a34a" stroke="#ffffff" stroke-width="1.6" paint-order="stroke"/>
<path d="M1545.24 734.6 L1569.24 734.6 L1557.24 750 Z" fill="#dc2626" stroke="#ffffff" stroke-width="1.6" paint-order="stroke"/>
<path d="M1567.13 722 L1591.13 722 L1579.13 706.6 Z" fill="#16a34a" stroke="#ffffff" stroke-width="1.6" paint-order="stroke"/>
<path d="M1665.63 734.6 L1689.63 734.6 L1677.63 750 Z" fill="#dc2626" stroke="#ffffff" stroke-width="1.6" paint-order="stroke"/>
<path d="M1807.92 722 L1831.92 722 L1819.92 706.6 Z" fill="#16a34a" stroke="#ffffff" stroke-width="1.6" paint-order="stroke"/>
</g>
<text x="1905.5" y="791.8" text-anchor="end" font-size="24" fill="#8c8c8c">source: sharemaestro.com</text>
<g font-size="22" fill="#333333" text-anchor="middle">
<text x="209.8" y="857.9">Jan 2023</text>
<text x="492.8" y="857.9">Jul 2023</text>
<text x="780.5" y="857.9">Jan 2024</text>
<text x="1065.1" y="857.9">Jul 2024</text>
<text x="1352.7" y="857.9">Jan 2025</text>
<text x="1635.7" y="857.9">Jul 2025</text>
</g>
<line x1="373" y1="940.2" x2="433" y2="940.2" stroke="#111111" stroke-width="3.6"/>
<line x1="746" y1="940.2" x2="806" y2="940.2" stroke="#2a6e9e" stroke-width="2.8" stroke-dasharray="18 18"/>
<line x1="1119" y1="940.2" x2="1179" y2="940.2" stroke="#a069dc" stroke-width="3.1" stroke-dasharray="6.2 5.8"/>
<line x1="1491.5" y1="940.2" x2="1551.5" y2="940.2" stroke="#f4a868" stroke-width="3.1" stroke-dasharray="6.2 5.8"/>
<path d="M391 983.1 L415 983.1 L403 967.7 Z" fill="#16a34a"/>
<path d="M764 972.5 L788 972.5 L776 987.9 Z" fill="#dc2626"/>
<circle cx="1149" cy="978" r="10" fill="#228b22"/>
<circle cx="1521.5" cy="978" r="10" fill="#b22222"/>
<g font-size="23.9" fill="#333333">
<text x="443.6" y="948.5">Weekly Close</text>
<text x="816" y="948.5">Baseline (0)</text>
<text x="1188.8" y="948.5">Top</text>
<text x="1561.4" y="948.5">Bottom</text>
<text x="443.6" y="986.6">Flip Up (Red→Green)</text>
<text x="816" y="986.6">Flip Down (Green→Red)</text>
<text x="1188.8" y="986.6">Positive</text>
<text x="1561.4" y="986.6">Negative</text>
</g>
</svg>
</body></html>
